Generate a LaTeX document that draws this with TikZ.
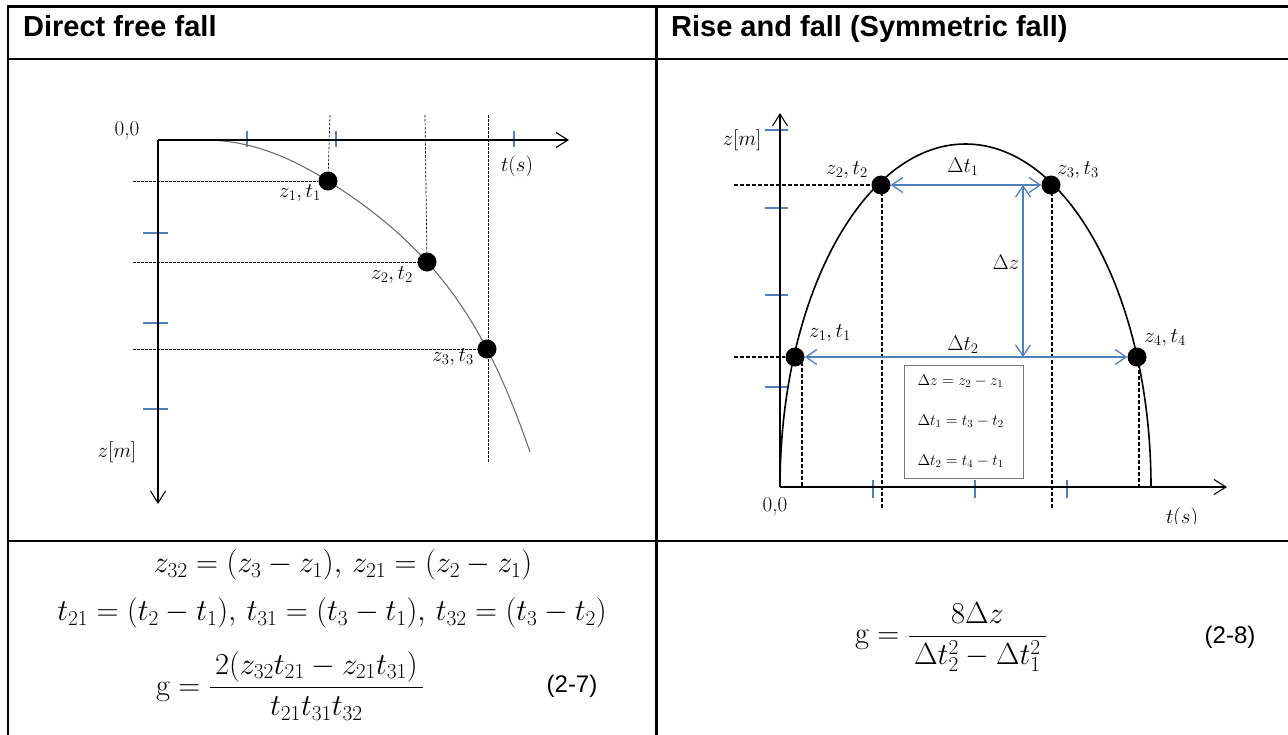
\RequirePackage{fix-cm}
\documentclass[tikz,border=0pt]{standalone}
\usepackage{amsmath}
\usepackage{fontspec}
\usepackage{tikz}
\usetikzlibrary{arrows.meta,positioning}
\newfontfamily\headfont{Liberation Sans}
\definecolor{TickBlue}{RGB}{79,129,189}
\definecolor{CurveGray}{RGB}{110,110,110}
\definecolor{BoxGray}{RGB}{120,120,120}
\newcommand{\labelsize}{\fontsize{21}{25}\selectfont}
\newcommand{\boxsize}{\fontsize{15.5}{40}\selectfont}
\newcommand{\formulasize}{\fontsize{30.5}{36}\selectfont}
\newcommand{\headsize}{\headfont\fontsize{29}{34}\selectfont}
\newcommand{\tagsize}{\headfont\fontsize{24}{28}\selectfont}

\begin{document}
\begin{tikzpicture}[x=1pt, y=-1pt,
    frame/.style={line width=2.4pt},
    axis/.style={line width=2.6pt, -{Straight Barb[length=12pt,width=15pt,line width=1.1pt]}},
    tick/.style={TickBlue, line width=1.1pt},
    mass/.style={circle, fill=black, inner sep=0pt, minimum size=19pt},
    guide/.style={line width=0.7pt, dash pattern=on 2.5pt off 1.5pt},
    guidethick/.style={line width=1.3pt, dash pattern=on 4pt off 2pt},
    span/.style={TickBlue, line width=1.3pt,
      {Straight Barb[length=11pt,width=15pt,line width=1.3pt]}-{Straight Barb[length=11pt,width=15pt,line width=1.3pt]}},
    lbl/.style={font=\labelsize, inner sep=0pt}]
    \useasboundingbox (0,0) rectangle (1288,734);

    % table
    \draw[frame] (8,6.5) -- (1292,6.5);
    \draw[frame] (8,59) -- (1292,59);
    \draw[frame] (8,541) -- (1292,541);
    \draw[frame] (8,5.3) -- (8,740);
    \draw[frame] (656.5,5.3) -- (656.5,740);

    \node (headleft) [anchor=base west, font=\headsize\bfseries, inner sep=0pt] at (23,36) {Direct free fall};
    \node (headright) [anchor=base west, font=\headsize\bfseries, inner sep=0pt] at (671,36) {Rise and fall (Symmetric fall)};

    % direct free fall
    \coordinate (o1) at (158,140);
    \coordinate (tend1) at (569,140);
    \coordinate (zend1) at (158,504);
    \foreach \x in {247,336,514} \draw[tick] (\x,131) -- (\x,147);
    \foreach \y in {233,323,409} \draw[tick] (143,\y) -- (168,\y);
    \draw[CurveGray, line width=1.1pt] (205,140) .. controls (246,140) and (287,154.8) .. (328,181)
      .. controls (361,202.1) and (394,225.7) .. (427,262)
      .. controls (447,284) and (467,311) .. (487,349)
      .. controls (501.3,376.2) and (515.7,410.5) .. (530,452);
    \node[mass] (p1) at (328,181) {};
    \node[mass] (p2) at (427,262) {};
    \node[mass] (p3) at (487,349) {};
    \draw[guide] (p1 -| 133,0) -- (p1);
    \draw[guide] (p2 -| 133,0) -- (p2);
    \draw[guide] (p3 -| 133,0) -- (p3);
    \draw[guide] (330,115) -- (p1);
    \draw[guide] (425,115) -- (p2);
    \draw[guide] (488,115) -- (488,463);
    \draw[axis] (o1) -- (tend1);
    \draw[axis] (o1) -- (zend1);
    \node[lbl] (orig1) at (127,131) {0,0};
    \node[lbl] (tlab1) at (517,166) {$t(s)$};
    \node[lbl] (zlab1) at (117,452) {$z[m]$};
    \node[lbl] (p1lab) at (300,193) {$z_1,t_1$};
    \node[lbl] (p2lab) at (392,275) {$z_2,t_2$};
    \node[lbl] (p3lab) at (453,357) {$z_3,t_3$};

    % rise and fall
    \coordinate (o2) at (780,487);
    \coordinate (tend2) at (1227,487);
    \coordinate (zend2) at (780,113);
    \foreach \y in {130,208,295,387} \draw[tick] (765,\y) -- (788,\y);
    \foreach \x in {873,975,1067} \draw[tick] (\x,480) -- (\x,498);
    \draw[line width=1.6pt] (o2) arc[start angle=180, end angle=360, x radius=185.5, y radius=343];
    \node[mass] (q1) at (795,357) {};
    \node[mass] (q2) at (881,185) {};
    \node[mass] (q3) at (1051,185) {};
    \node[mass] (q4) at (1137,357) {};
    \draw[guidethick] (q2 -| 734,0) -- (q2);
    \draw[guidethick] (q1 -| 734,0) -- (q1);
    \draw[guidethick] (802,362) -- (802,487);
    \draw[guidethick] (882,192) -- (882,508);
    \draw[guidethick] (1052,192) -- (1052,508);
    \draw[guidethick] (1139,364) -- (1139,487);
    \draw[axis] (o2) -- (tend2);
    \draw[axis] (o2) -- (zend2);
    \coordinate (dztop) at (1023,185);
    \coordinate (dzbot) at (1023,357);
    \draw[span] (q2) -- (q3);
    \draw[span] (q1) -- (q4);
    \draw[span] (dztop) -- (dzbot);
    \node[lbl] (dt1lab) at (963,167) {$\Delta t_1$};
    \node[lbl] (dzlab) at (1006,262) {$\Delta z$};
    \node[lbl] (dt2lab) at (963,345) {$\Delta t_2$};
    \node[lbl] (q1lab) at (830,333) {$z_1,t_1$};
    \node[lbl] (q2lab) at (847,170) {$z_2,t_2$};
    \node[lbl] (q3lab) at (1078,170) {$z_3,t_3$};
    \node[lbl] (q4lab) at (1165,338) {$z_4,t_4$};
    \node[lbl] (zlab2) at (742,140) {$z[m]$};
    \node[lbl] (orig2) at (775,507) {0,0};
    \begin{scope}
      \clip (1120,495) rectangle (1250,523);
      \node[lbl] (tlab2) at (1182,518) {$t(s)$};
    \end{scope}
    \node (eqbox) [draw=BoxGray, line width=1pt, minimum width=119pt, minimum height=113pt,
      text width=92pt, align=left, font=\boxsize, inner sep=0pt] at (963.5,421.5)
      {$\Delta z = z_2 - z_1$\\ $\Delta t_1 = t_3 - t_2$\\ $\Delta t_2 = t_4 - t_1$};

    % formulas
    \node (zdiff) [font=\formulasize, inner sep=0pt] at (343,565)
      {$z_{32} = (z_3 - z_1),\, z_{21} = (z_2 - z_1)$};
    \node (tdiff) [font=\formulasize, inner sep=0pt] at (332,613)
      {$t_{21} = (t_2 - t_1),\, t_{31} = (t_3 - t_1),\, t_{32} = (t_3 - t_2)$};
    \node (gleft) [font=\formulasize, inner sep=0pt] at (290,686)
      {$\mathrm{g} = \dfrac{\,2(z_{32}t_{21} - z_{21}t_{31})\,}{t_{21}t_{31}t_{32}}$};
    \node (numleft) [font=\tagsize, inner sep=0pt] at (572,686) {(2-7)};
    \node (gright) [font=\formulasize, inner sep=0pt] at (951,637)
      {$\mathrm{g} = \dfrac{\;8\Delta z\;}{\,\Delta t_2^2 - \Delta t_1^2\,}$};
    \node (numright) [font=\tagsize, inner sep=0pt] at (1230,637) {(2-8)};
\end{tikzpicture}
\end{document}
